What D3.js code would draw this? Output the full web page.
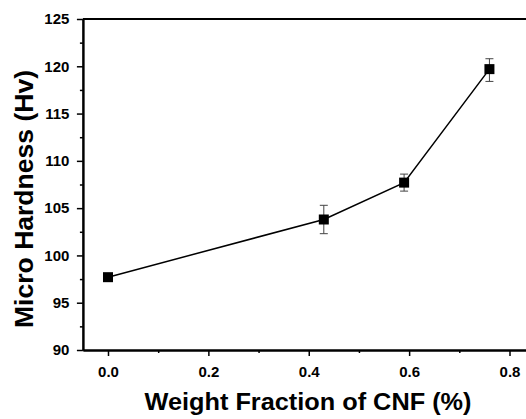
<!DOCTYPE html>
<html>
<head>
<meta charset="utf-8">
<script src="https://cdn.jsdelivr.net/npm/d3@7"></script>
<style>
  body { margin: 0; background: #fff; }
  svg { display: block; font-family: Arial, "Liberation Sans", sans-serif; }
</style>
</head>
<body>
<div class="chart"></div>
<script>
// data
const cnf = [0.0, 0.43, 0.59, 0.76];
const hardness = [97.7, 103.8, 107.7, 119.7];
const errLow = [97.7, 102.3, 106.8, 118.4];
const errHigh = [97.7, 105.3, 108.6, 120.8];
const xTicks = [0.0, 0.2, 0.4, 0.6, 0.8];
const yTicks = [90, 95, 100, 105, 110, 115, 120, 125];

const width = 526, height = 419;

const svg = d3.select(".chart").append("svg")
              .attr("width", width)
              .attr("height", height);

// scales
const x = d3.scaleLinear().domain([-0.05, 0.85]).range([82.9, 534.6]);
const y = d3.scaleLinear().domain([90, 125]).range([350, 19]);

// minor ticks
const xMinor = d3.range(0.1, 0.85, 0.2);
const yMinor = d3.range(92.5, 125, 5);

// x axis
const xAxis = svg.append("g").attr("transform", "translate(0,350)");
xAxis.call(d3.axisBottom(x).tickValues(xTicks).tickFormat(d3.format(".1f")).tickSize(6).tickSizeOuter(0));
xAxis.append("g").call(d3.axisBottom(x).tickValues(xMinor).tickFormat("").tickSize(3).tickSizeOuter(0));

// y axis
const yAxis = svg.append("g").attr("transform", "translate(82.9,0)");
yAxis.call(d3.axisLeft(y).tickValues(yTicks).tickFormat(d3.format("d")).tickSize(6).tickSizeOuter(0));
yAxis.append("g").call(d3.axisLeft(y).tickValues(yMinor).tickFormat("").tickSize(3).tickSizeOuter(0));

svg.selectAll(".domain").attr("stroke", "#000").attr("stroke-width", 2);
svg.selectAll(".tick line").attr("stroke", "#000").attr("stroke-width", 1.5);
svg.selectAll(".tick text")
   .attr("font-family", "Arial, 'Liberation Sans', sans-serif")
   .attr("font-size", 15)
   .attr("font-weight", "bold")
   .attr("fill", "#000");
xAxis.selectAll(".tick text").attr("dy", "1.2em");
yAxis.selectAll(".tick text").attr("dx", "-0.3em");

// top frame line
svg.append("line")
   .attr("x1", x(-0.05)).attr("x2", x(0.85))
   .attr("y1", y(125)).attr("y2", y(125))
   .attr("stroke", "#000").attr("stroke-width", 2);

// connecting line
const pts = cnf.map((d, i) => [d, hardness[i]]);
svg.append("path")
   .attr("d", d3.line().x(d => x(d[0])).y(d => y(d[1]))(pts))
   .attr("fill", "none")
   .attr("stroke", "#000")
   .attr("stroke-width", 1.5);

// error bars
const eb = svg.selectAll(".eb").data(cnf).enter().append("g").attr("class", "eb");
eb.append("line")
  .attr("x1", d => x(d)).attr("x2", d => x(d))
  .attr("y1", (d, i) => y(errLow[i])).attr("y2", (d, i) => y(errHigh[i]))
  .attr("stroke", "#444").attr("stroke-width", 1);
eb.append("line")
  .attr("x1", d => x(d) - 4).attr("x2", d => x(d) + 4)
  .attr("y1", (d, i) => y(errLow[i])).attr("y2", (d, i) => y(errLow[i]))
  .attr("stroke", "#444").attr("stroke-width", 1);
eb.append("line")
  .attr("x1", d => x(d) - 4).attr("x2", d => x(d) + 4)
  .attr("y1", (d, i) => y(errHigh[i])).attr("y2", (d, i) => y(errHigh[i]))
  .attr("stroke", "#444").attr("stroke-width", 1);

// square markers
svg.selectAll(".pt").data(cnf).enter().append("rect")
   .attr("class", "pt")
   .attr("x", d => x(d) - 5)
   .attr("y", (d, i) => y(hardness[i]) - 5)
   .attr("width", 10)
   .attr("height", 10)
   .attr("fill", "#000");

// axis titles
svg.append("text")
   .text("Weight Fraction of CNF (%)")
   .attr("x", 308).attr("y", 410)
   .attr("text-anchor", "middle")
   .attr("font-size", 23)
   .attr("font-weight", "bold")
   .attr("textLength", 327)
   .attr("lengthAdjust", "spacingAndGlyphs");

svg.append("text")
   .text("Micro Hardness (Hv)")
   .attr("transform", "translate(33,199) rotate(-90)")
   .attr("text-anchor", "middle")
   .attr("font-size", 26)
   .attr("font-weight", "bold")
   .attr("textLength", 258)
   .attr("lengthAdjust", "spacingAndGlyphs");
</script>
</body>
</html>
